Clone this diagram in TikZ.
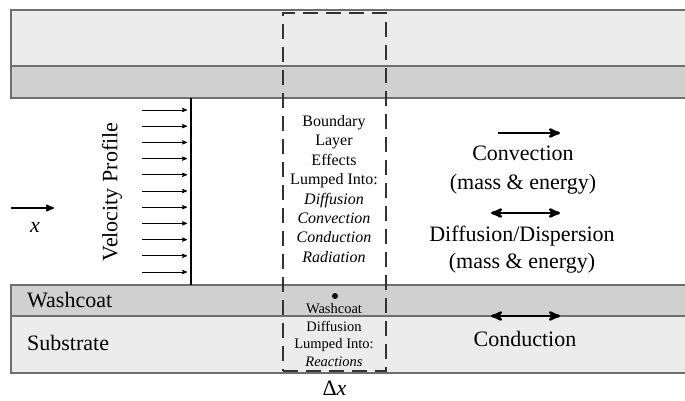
\documentclass[tikz,border=0pt]{standalone}
\usepackage{fontspec}
\setmainfont{Liberation Serif}
\usepackage{tikz}
\usetikzlibrary{arrows,positioning}
\definecolor{bandlight}{HTML}{ECECEC}
\definecolor{banddark}{HTML}{D1D0D0}
\definecolor{bandedge}{HTML}{6E6E6E}
\tikzset{
    %Define standard arrow tip
    >=stealth',
    %Define style for the channel bands
    lightband/.style={
           fill=bandlight,
           draw=bandedge,
           line width=1.2pt},
    darkband/.style={
           fill=banddark,
           draw=bandedge,
           line width=1.2pt},
    %Define style for the control volume
    slicebox/.style={
           rectangle,
           draw=black!80, line width=1.8pt,
           dash pattern=on 15pt off 8pt,
           minimum width=103pt,
           minimum height=358pt},
    bigtext/.style={
           font=\fontsize{22}{29}\selectfont,
           align=center},
    midtext/.style={
           font=\fontsize{16}{19.4}\selectfont,
           align=center},
    smalltext/.style={
           font=\fontsize{14.5}{17.7}\selectfont,
           align=center},
    % Define arrow styles
    velpil/.style={
           ->,
           line width=0.8pt,
           shorten >=4pt},
    pil/.style={
           ->,
           line width=2.6pt},
    dpil/.style={
           <->,
           line width=2.6pt}
}
\begin{document}
\begin{tikzpicture}[x=1pt,y=-1pt]
\useasboundingbox (0,0) rectangle (685,400);
\draw[lightband] (11,10) rectangle (730,66);
\draw[darkband] (11,66) rectangle (730,98);
\draw[darkband] (11,285) rectangle (730,316);
\draw[lightband] (11,316) rectangle (730,373);
% velocity profile
\coordinate (walltop) at (191,98);
\coordinate (wallbot) at (191,285);
\draw[line width=1.5pt] (walltop) -- (wallbot);
\foreach \i in {0,...,10}{
  \coordinate (v\i) at (142,110+16.2*\i);
  \draw[velpil] (v\i) -- (v\i -| walltop);
}
\node[bigtext,rotate=90] (velo) at (112,192) {Velocity Profile};
\coordinate (xstart) at (11,208);
\coordinate (xend) at (54,208);
\draw[->,line width=1.8pt] (xstart) -- (xend);
\node[bigtext] (xlab) at (35,227) {\textit{x}};
\node[bigtext,anchor=west,inner sep=0pt] (wash) at (27,300) {Washcoat};
\node[bigtext,anchor=west,inner sep=0pt] (subs) at (27,343) {Substrate};
% control volume
\node[slicebox] (slice) at (334.5,192) {};
\node[font=\fontsize{22}{24}\selectfont,inner sep=0pt,below=9pt of slice] (dx) {Δ\textit{x}};
\node[midtext] (blayer) at (334,189) {Boundary\\Layer\\Effects\\Lumped Into:\\\textit{Diffusion}\\\textit{Convection}\\\textit{Conduction}\\\textit{Radiation}};
\node[circle,fill,inner sep=0pt,minimum size=6pt] (dot) at (335,296) {};
\node[smalltext] (wdiff) at (334,335) {Washcoat\\Diffusion\\Lumped Into:\\\textit{Reactions}};
% transport terms
\node[bigtext] (conv) at (523,170) {Convection\\(mass \& energy)};
\coordinate (c1) at (498,133);
\coordinate (c2) at (560,133);
\draw[pil] (c1) -- (c2);
\node[bigtext,font=\fontsize{22}{27}\selectfont] (disp) at (522,250) {Diffusion/Dispersion\\(mass \& energy)};
\coordinate (d1) at (491,213);
\coordinate (d2) at (560,213);
\draw[dpil] (d1) -- (d2);
\node[bigtext] (cond) at (525,339) {Conduction};
\coordinate (k1) at (491,316);
\coordinate (k2) at (560,316);
\draw[dpil] (k1) -- (k2);
\end{tikzpicture}
\end{document}
